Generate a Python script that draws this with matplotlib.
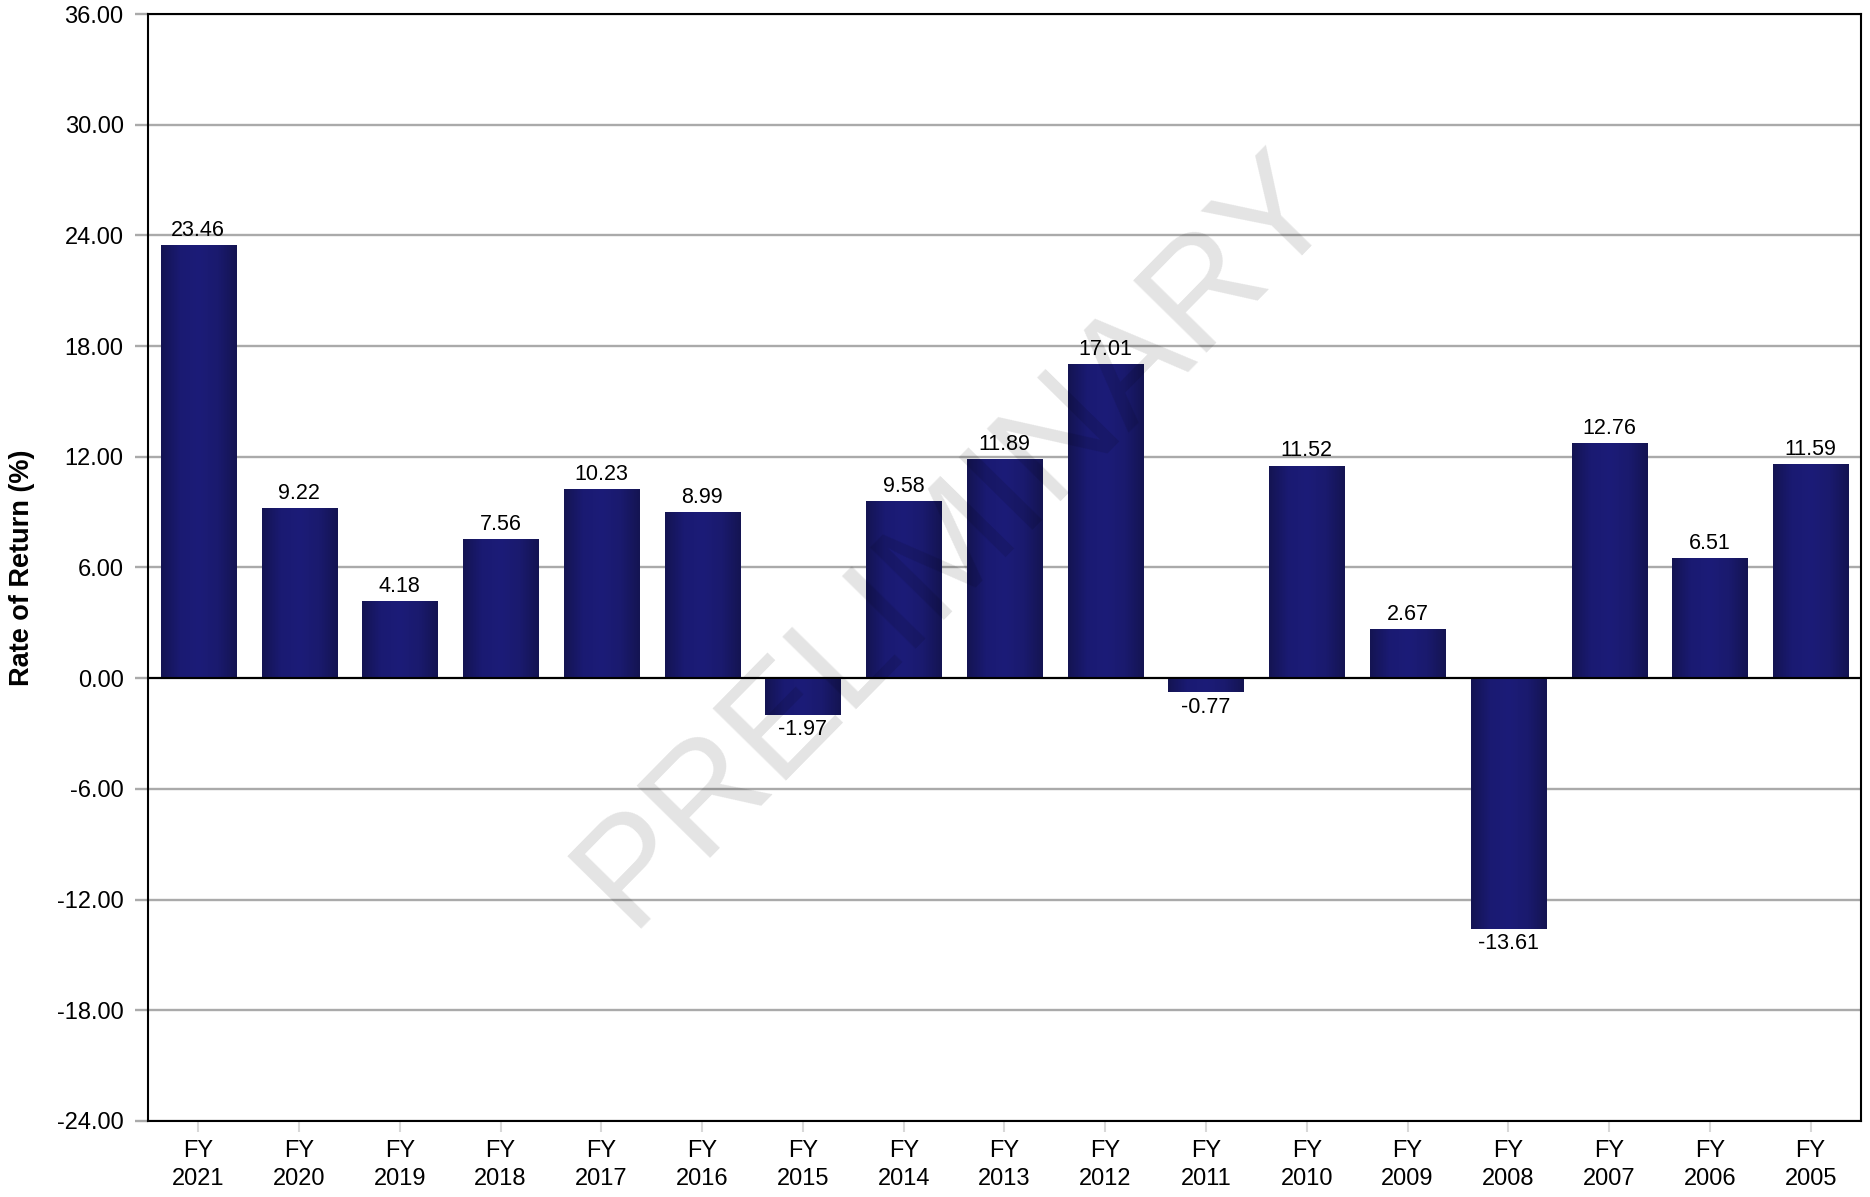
import numpy as np
import matplotlib
matplotlib.use("Agg")
import matplotlib.pyplot as plt
from matplotlib.colors import LinearSegmentedColormap

plt.rcParams['font.family'] = ['Liberation Sans', 'DejaVu Sans']

# Annual rates of return by fiscal year
years = ["2021", "2020", "2019", "2018", "2017", "2016", "2015", "2014", "2013",
         "2012", "2011", "2010", "2009", "2008", "2007", "2006", "2005"]
returns = [23.46, 9.22, 4.18, 7.56, 10.23, 8.99, -1.97, 9.58, 11.89,
           17.01, -0.77, 11.52, 2.67, -13.61, 12.76, 6.51, 11.59]
tick_labels = [f"FY\n{y}" for y in years]
y_ticks = [-24, -18, -12, -6, 0, 6, 12, 18, 24, 30, 36]

fig = plt.figure(figsize=(18.7, 11.97), dpi=100)
ax = fig.add_axes([0.0791, 0.0635, 0.9161, 0.9248])

x = np.arange(len(years))
bar_w = 0.745
bars = ax.bar(x, returns, width=bar_w, color="#19196a", zorder=2)

# Horizontal shading across each bar: darker edges, lighter middle
shade = LinearSegmentedColormap.from_list(
    "bar_shade", ["#141452", "#1a1a72", "#1c1c78", "#1a1a6e", "#141452"])
grad = np.linspace(0, 1, 256).reshape(1, -1)
for b in bars:
    x0, y0 = b.get_x(), b.get_y()
    x1, y1 = x0 + b.get_width(), y0 + b.get_height()
    im = ax.imshow(grad, cmap=shade, extent=[x0, x1, min(y0, y1), max(y0, y1)],
                   aspect="auto", zorder=2.1, interpolation="bilinear")
    im.set_clip_path(b)

ax.set_xlim(-0.5, len(years) - 0.5)
ax.set_ylim(-24, 36)

# Grid and axis styling
ax.set_yticks(y_ticks)
ax.set_yticklabels([f"{v:.2f}" for v in y_ticks])
ax.yaxis.grid(True, color="#aaaaaa", linewidth=1.7, zorder=1)
ax.set_axisbelow(True)
ax.tick_params(axis="y", length=9.5, width=1.7, color="#aaaaaa",
               labelsize=17, pad=8)
ax.set_xticks(x)
ax.set_xticklabels(tick_labels, fontsize=17, linespacing=1.3)
ax.tick_params(axis="x", length=8, width=1.5, color="#d8d8d8", pad=6)
for s in ax.spines.values():
    s.set_color("black")
    s.set_linewidth(1.5)
    s.set_zorder(4)

ax.axhline(0, color="black", linewidth=1.5, zorder=3)

ax.set_ylabel("Rate of Return (%)", fontsize=19.5, fontweight="bold",
              labelpad=16)

# Value labels
for xi, v in zip(x, returns):
    if v >= 0:
        ax.annotate(f"{v:.2f}", (xi, v), xytext=(0, 3), textcoords="offset points",
                    ha="center", va="bottom", fontsize=15.5, zorder=5)
    else:
        ax.annotate(f"{v:.2f}", (xi, v), xytext=(0, -3), textcoords="offset points",
                    ha="center", va="top", fontsize=15.5, zorder=5)

# Watermark
ax.text(0.472, 0.525, "PRELIMINARY", transform=ax.transAxes, fontsize=108,
        rotation=45.5, color="black", alpha=0.11, ha="center", va="center",
        zorder=10)

fig.savefig("out.png", dpi=100, facecolor="white")
